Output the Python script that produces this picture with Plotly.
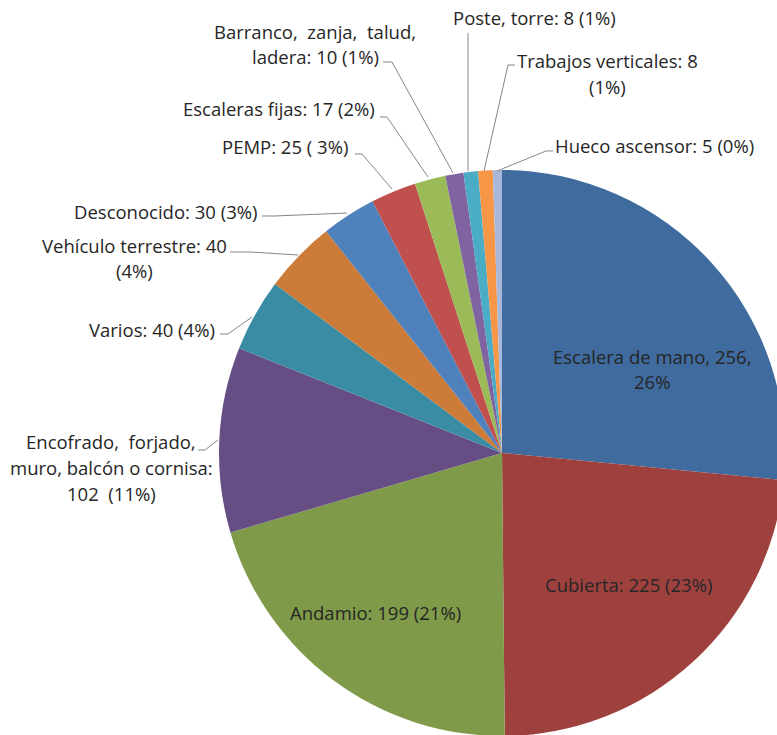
"""Pie chart: caídas de altura por tipo de superficie / elemento."""

import plotly.graph_objects as go

categories = [
    "Escalera de mano", "Cubierta", "Andamio",
    "Encofrado, forjado, muro, balcón o cornisa", "Varios",
    "Vehículo terrestre", "Desconocido", "PEMP", "Escaleras fijas",
    "Barranco, zanja, talud, ladera", "Poste, torre",
    "Trabajos verticales", "Hueco ascensor",
]
values = [256, 225, 199, 102, 40, 40, 30, 25, 17, 10, 8, 8, 5]
label_texts = [
    "Escalera de mano, 256,\n26%",
    "Cubierta: 225 (23%)",
    "Andamio: 199 (21%)",
    "Encofrado,  forjado,\nmuro, balcón o cornisa:\n102  (11%)",
    "Varios: 40 (4%)",
    "Vehículo terrestre: 40\n(4%)",
    "Desconocido: 30 (3%)",
    "PEMP: 25 ( 3%)",
    "Escaleras fijas: 17 (2%)",
    "Barranco,  zanja,  talud,\nladera: 10 (1%)",
    "Poste, torre: 8 (1%)",
    "Trabajos verticales: 8\n(1%)",
    "Hueco ascensor: 5 (0%)",
]
colors = [
    "#3F6B9E", "#9E413E", "#7F9A48", "#664E84", "#3A8CA4", "#CC7B38",
    "#4F81BD", "#C0504D", "#9BBB59", "#8064A2", "#4BACC6", "#F79646",
    "#A7B8DB",
]

# canvas is a bit larger than the window so the pie gets cut at right/bottom
W, H = 790, 740
CX, CY, R = 502, 453, 283

# label centre (px) and leader polyline (px) for every slice
label_pos = [
    (652, 369), (628, 584), (375, 612), (111, 467), (152, 329), (134, 258),
    (165, 212), (285, 147), (279, 108), (315, 44), (534, 18), (607, 73),
    (654, 145),
]
leaders = [
    None, None, None,
    [(198, 450), (205, 450), (218, 440)],
    [(220, 334), (228, 334), (252, 317)],
    [(230, 252), (250, 252), (298, 255)],
    [(262, 216), (275, 216), (347, 213)],
    [(355, 154), (362, 154), (392, 189)],
    [(380, 117), (387, 117), (428, 177)],
    [(383, 62), (392, 62), (453, 173)],
    [(468, 33), (468, 171)],
    [(515, 65), (508, 65), (484, 171)],
    [(553, 151), (546, 151), (497, 171)],
]


def px(x, y):
    return x / W, 1 - y / H


fig = go.Figure(
    go.Pie(
        labels=categories,
        values=values,
        sort=False,
        direction="clockwise",
        rotation=0,
        marker=dict(colors=colors, line=dict(width=0)),
        textinfo="none",
        hoverinfo="label+value+percent",
        showlegend=False,
        domain=dict(
            x=[(CX - R) / W, (CX + R) / W],
            y=[1 - (CY + R) / H, 1 - (CY - R) / H],
        ),
    )
)

LINE_H = 26
for text, (lx, ly) in zip(label_texts, label_pos):
    lines = text.split("\n")
    top = ly - LINE_H * (len(lines) - 1) / 2
    for i, line in enumerate(lines):
        ax_, ay_ = px(lx, top + i * LINE_H)
        fig.add_annotation(
            x=ax_, y=ay_, xref="paper", yref="paper",
            text=line, showarrow=False,
            xanchor="center", yanchor="middle",
            font=dict(family="Open Sans", size=18.5, color="#262626"),
        )

for pts in leaders:
    if pts is None:
        continue
    path = ""
    for i, (x, y) in enumerate(pts):
        qx, qy = px(x, y)
        path += ("M" if i == 0 else " L") + f"{qx:.5f},{qy:.5f}"
    fig.add_shape(type="path", xref="paper", yref="paper", path=path,
                  line=dict(color="#858585", width=1))

fig.update_layout(
    width=W,
    height=H,
    margin=dict(l=0, r=0, t=0, b=0),
    paper_bgcolor="white",
    plot_bgcolor="white",
)

fig.write_html(
    "out.html",
    config={"displayModeBar": False},
    post_script=(
        "document.body.style.margin='0';"
        "document.body.style.overflow='hidden';"
        "document.documentElement.style.overflow='hidden';"
    ),
)
